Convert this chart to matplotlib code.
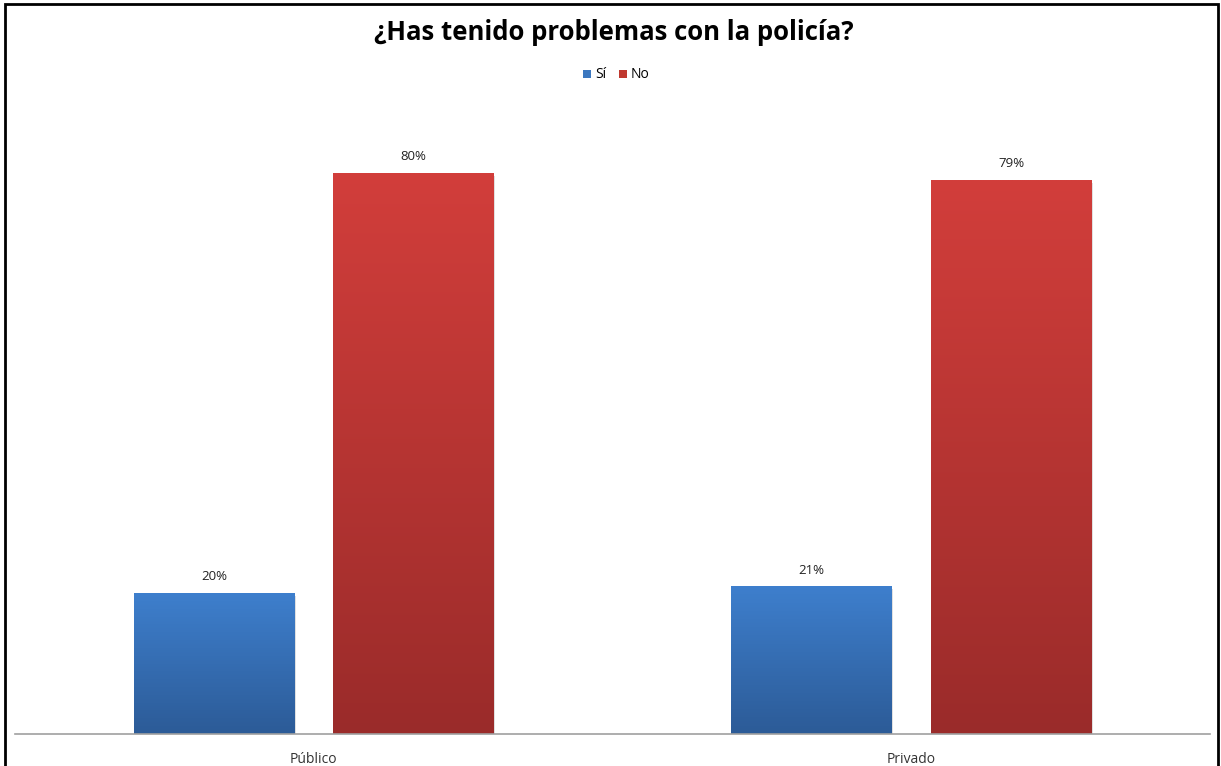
import numpy as np
import matplotlib.pyplot as plt
from matplotlib.patches import Rectangle
from matplotlib.colors import LinearSegmentedColormap

categories = ["Público", "Privado"]
si_values = [20, 21]
no_values = [80, 79]
series_names = ["Sí", "No"]

W, H = 1221, 766
fig = plt.figure(figsize=(W / 100, H / 100), dpi=100)
plt.rcParams['font.family'] = ['Open Sans', 'DejaVu Sans']

# axes placed in pixel terms
left, right, bottom, top = 15, 1210, 734, 100
ax = fig.add_axes([left / W, (H - bottom) / H, (right - left) / W, (bottom - top) / H])

blue_cmap = LinearSegmentedColormap.from_list("b", ["#2C5B97", "#3E7FCD"])
red_cmap = LinearSegmentedColormap.from_list("r", ["#9A2B2A", "#D23E3B"])

x = np.arange(len(categories))
width = 0.268
offset = 0.167
grad = np.linspace(0, 1, 256).reshape(-1, 1)

for vals, sign, cmap in [(si_values, -1, blue_cmap), (no_values, 1, red_cmap)]:
    for xi, v in zip(x, vals):
        x0 = xi + sign * offset - width / 2
        # faint shadow
        ax.add_patch(Rectangle((x0 + 0.003, 0), width, v - 0.3, facecolor="#cccccc",
                               edgecolor="none", alpha=0.6, zorder=1))
        ax.imshow(grad, extent=(x0, x0 + width, 0, v), origin="lower", cmap=cmap,
                  aspect="auto", zorder=2)
        ax.text(xi + sign * offset, v + 1.5, f"{v}%", ha="center", va="bottom",
                fontsize=9.5, color="#222222")

ax.set_xlim(-0.5, 1.5)
ax.set_ylim(0, (bottom - top) / 7.0)
ax.set_xticks(x)
ax.set_xticklabels(categories, fontsize=10, color="#333333")
ax.tick_params(axis="x", length=0, pad=13)
ax.set_yticks([])
for s in ["top", "right", "left"]:
    ax.spines[s].set_visible(False)
ax.spines["bottom"].set_color("#a0a0a0")
ax.spines["bottom"].set_linewidth(1.2)

fig.text(614 / W, 1 - 33 / H, "¿Has tenido problemas con la policía?", ha="center",
         va="center", fontsize=18.5, fontweight="bold", color="black")

# legend
fig.patches.append(Rectangle((583 / W, 1 - 78 / H), 8 / W, 8 / H, transform=fig.transFigure,
                             facecolor="#3C78C0", edgecolor="none"))
fig.text(595 / W, 1 - 74 / H, series_names[0], ha="left", va="center", fontsize=10)
fig.patches.append(Rectangle((619 / W, 1 - 78 / H), 8 / W, 8 / H, transform=fig.transFigure,
                             facecolor="#C0392F", edgecolor="none"))
fig.text(631 / W, 1 - 74 / H, series_names[1], ha="left", va="center", fontsize=10)

# chart border
fig.patches.append(Rectangle((5 / W, -0.05), (1218 - 5) / W, 1 - 4 / H + 0.05,
                             transform=fig.transFigure, facecolor="none",
                             edgecolor="black", linewidth=2))

fig.savefig("out.png", dpi=100)
